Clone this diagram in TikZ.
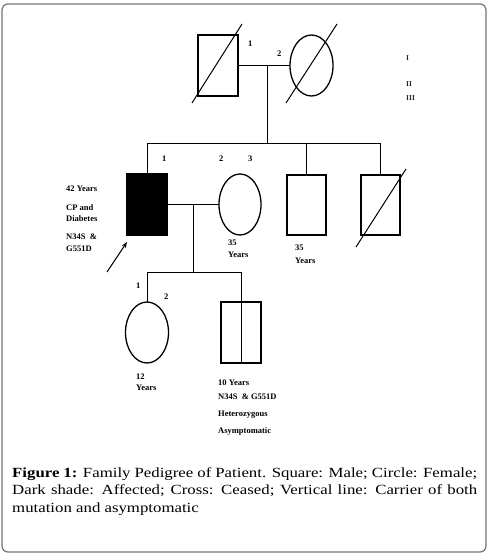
\documentclass[tikz,border=0pt]{standalone}
\usepackage{fontspec}
\setmainfont{Liberation Serif}
\newfontfamily\capfont[FakeStretch=1.2]{Liberation Serif}
\usetikzlibrary{shapes.geometric,arrows.meta,calc}
\begin{document}
\begin{tikzpicture}[x=1pt,y=-1pt,
 sq/.style={draw, line width=1.3pt, minimum width=40pt, minimum height=61pt, inner sep=0pt, outer sep=0pt},
 ci/.style={ellipse, draw, line width=1.3pt, minimum width=43pt, minimum height=61pt, inner sep=0pt, outer sep=0pt},
 con/.style={line width=1pt},
 dead/.style={line width=1pt},
 txt/.style={font=\bfseries\fontsize{8.5}{10}\selectfont, inner sep=0pt, anchor=west},
 gen/.style={font=\bfseries\fontsize{7.5}{8}\selectfont, text=black!85, inner sep=0pt, anchor=west},
 frame/.style={draw=black!55, line width=1.2pt, rounded corners=6pt},
]
\useasboundingbox (0,0) rectangle (489,556);
\draw[frame] (2,4) rectangle (486,552);

% generation I
\node[sq] (gf) at (218,65.5) {};
\node[ci] (gm) at (311.5,65.5) {};
\draw[dead] ([shift={(-26,37.5)}]gf.center) -- ([shift={(24,-41.5)}]gf.center);
\draw[dead] ([shift={(-25.5,37.5)}]gm.center) -- ([shift={(25.5,-41.5)}]gm.center);
\draw[con] (gf.east) -- (gm.west);
\coordinate (m1) at (267,66);
\coordinate (s1) at (267,144);
\draw[con] (m1) -- (s1);
\node[txt] (l1a) at (248,44) {1};
\node[txt] (l1b) at (277,54) {2};

% generation labels
\node[gen] (gI) at (406,58) {I};
\node[gen] (gII) at (406,84) {II};
\node[gen] (gIII) at (406,98) {III};

% generation II
\node[sq, fill=black] (p) at (147,204.5) {};
\node[ci, minimum width=42pt] (w) at (240,204.5) {};
\node[sq, minimum width=39pt, minimum height=60pt] (b) at (306.5,205) {};
\node[sq, minimum width=39pt, minimum height=60pt] (d) at (380.5,205) {};
\draw[dead] ([shift={(-24.5,42)}]d.center) -- ([shift={(25.5,-36)}]d.center);
\coordinate (sL) at (147,144);
\coordinate (sR) at (380.5,144);
\coordinate (sB) at (306.5,144);
\draw[con] (sL) -- (sR);
\draw[con] (sL) -- (p.north);
\draw[con] (sB) -- (b.north);
\draw[con] (sR) -- (d.north);
\draw[con] (p.east) -- (w.west);
\coordinate (m2) at (193,205);
\coordinate (c1) at (193,272);
\draw[con] (m2) -- (c1);
\node[txt] (l2a) at (162,159) {1};
\node[txt] (l2b) at (219,159) {2};
\node[txt] (l2c) at (248,159) {3};

\node[txt] (pt1) at (66,189) {42 Years};
\node[txt] (pt2) at (66,208) {CP and};
\node[txt] (pt3) at (66,219) {Diabetes};
\node[txt] (pt4) at (66,237) {N34S\ \ \&};
\node[txt] (pt5) at (66,249) {G551D};
\coordinate (arT) at (107,272);
\coordinate (arH) at (127,242);
\draw[line width=1pt, -{Stealth[length=6pt,width=4.5pt]}] (arT) -- (arH);

\node[txt] (wt1) at (228,243) {35};
\node[txt] (wt2) at (228,255) {Years};
\node[txt] (bt1) at (295,248) {35};
\node[txt] (bt2) at (295,261) {Years};

% generation III
\node[ci] (dau) at (147,332.5) {};
\node[sq] (son) at (241,332.5) {};
\draw[line width=1pt] (son.north) -- (son.south);
\coordinate (cL) at (147,272);
\coordinate (cR) at (241,272);
\draw[con] (cL) -- (cR);
\draw[con] (cL) -- (dau.north);
\draw[con] (cR) -- (son.north);
\node[txt] (l3a) at (136,286) {1};
\node[txt] (l3b) at (164,297) {2};
\node[txt] (dt1) at (136,377) {12};
\node[txt] (dt2) at (136,388) {Years};
\node[txt] (st1) at (218,383) {10 Years};
\node[txt] (st2) at (218,397) {N34S\ \ \& G551D};
\node[txt] (st3) at (218,415) {Heterozygous};
\node[txt] (st4) at (218,431) {Asymptomatic};

% caption
\node[anchor=base west, inner sep=0pt] (cap) at (12,477) {\parbox[t]{465pt}{\capfont\fontsize{14}{17.5}\selectfont
\hbox to 465pt{\bfseries Figure 1:\mdseries{} Family Pedigree of Patient. Square: Male; Circle: Female;}
\hbox to 465pt{Dark shade: Affected; Cross: Ceased; Vertical line: Carrier of both}
\hbox{mutation and asymptomatic}}};
\end{tikzpicture}
\end{document}
